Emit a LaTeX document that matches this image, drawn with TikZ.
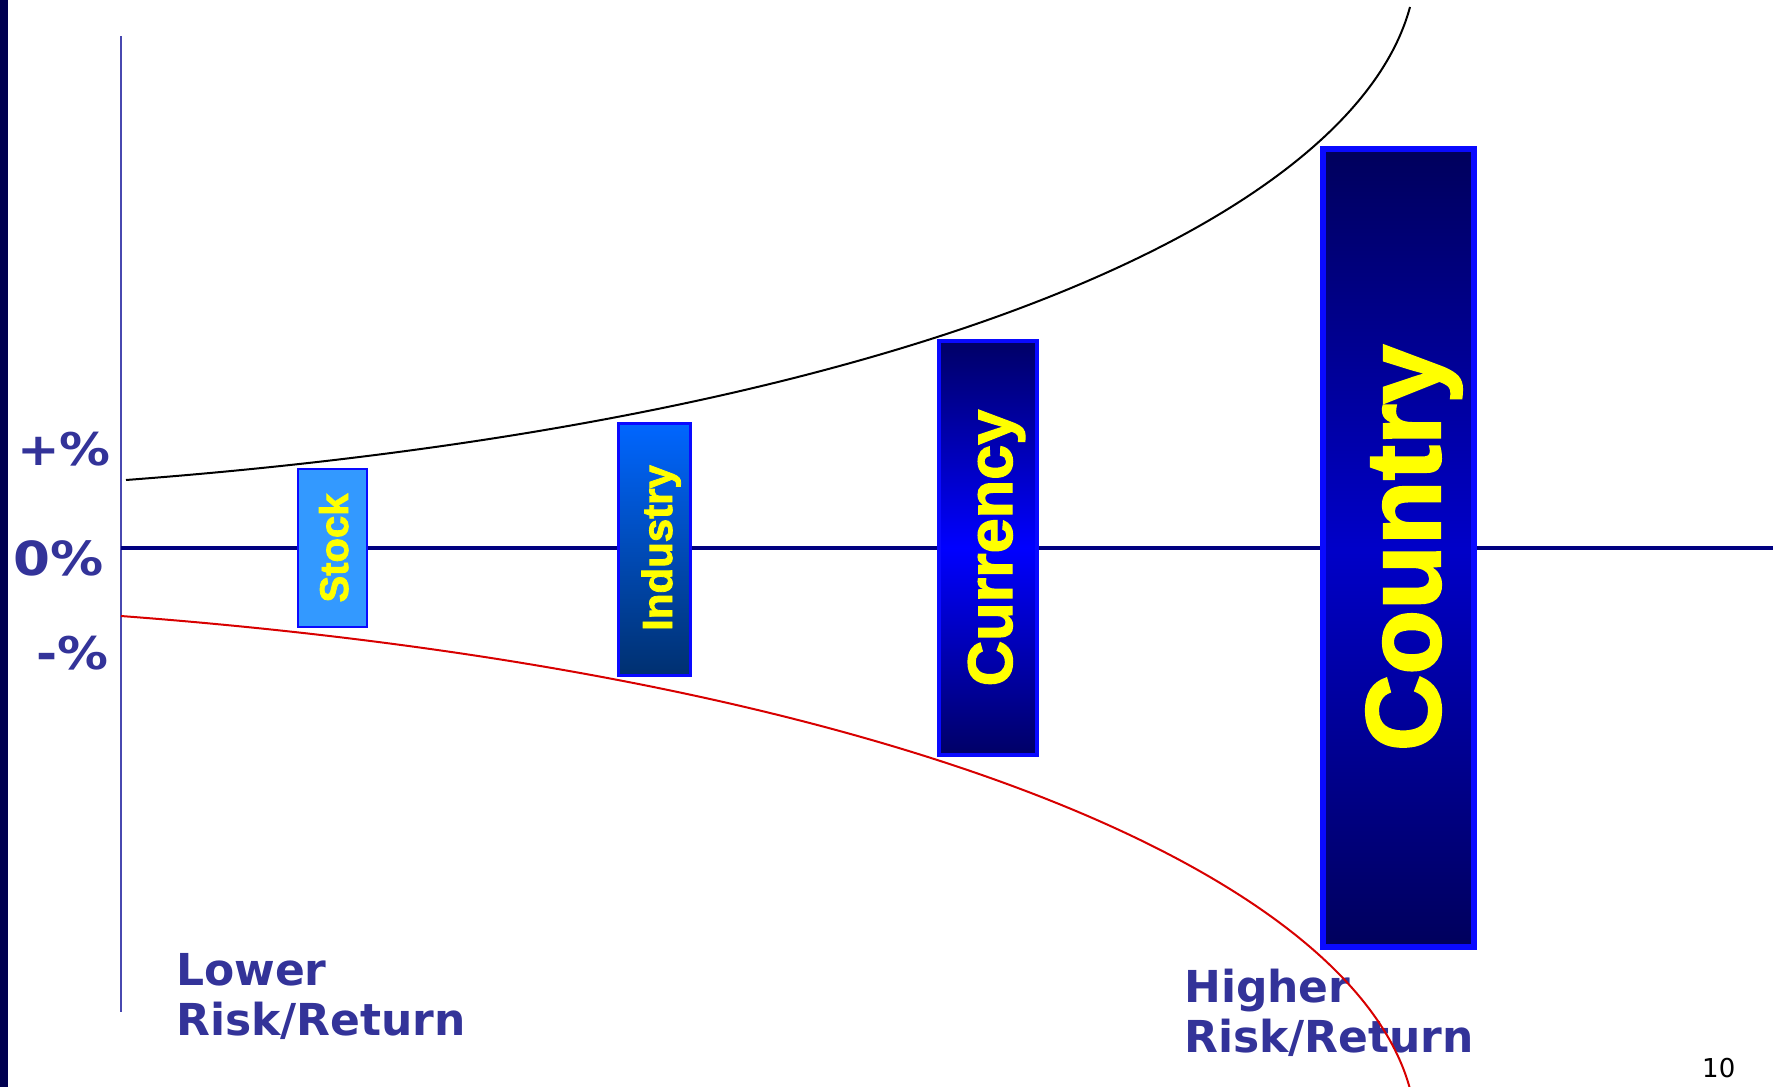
\documentclass[tikz,border=0pt]{standalone}
\usepackage{fontspec}
\setmainfont{DejaVu Sans}
\newfontfamily\labfont{DejaVu Sans}[UprightFont={* Bold}]
\newfontfamily\pctfont{DejaVu Sans}[UprightFont={* Bold}, FakeStretch=1.13]
\newfontfamily\numfont{DejaVu Sans}
\newfontfamily\boxfont{Liberation Sans}[UprightFont={* Bold}, FakeBold=2]
\definecolor{labblue}{HTML}{333399}
\definecolor{barnavy}{HTML}{000050}
\definecolor{axisblue}{HTML}{4848B0}
\definecolor{zeronavy}{HTML}{000080}
\definecolor{boxblue}{HTML}{0A0AFF}
\definecolor{stockfill}{HTML}{3399FF}
\definecolor{indtop}{HTML}{0066FF}
\definecolor{indbot}{HTML}{003070}
\definecolor{curdark}{HTML}{000066}
\definecolor{curmid}{HTML}{0000FF}
\definecolor{coudark}{HTML}{00005C}
\definecolor{coumid}{HTML}{0000C8}
\definecolor{txtyellow}{HTML}{FFFF00}
\definecolor{curvered}{HTML}{D80000}
\begin{document}
\begin{tikzpicture}[x=1pt,y=-1pt,
  lab/.style={text=labblue, inner sep=0, font=\labfont\fontsize{44}{50}\selectfont},
  pct/.style={text=labblue, inner sep=0, anchor=base east, font=\pctfont\fontsize{45}{50}\selectfont},
  riskbox/.style={rectangle, draw=boxblue, inner sep=0},
  boxtxt/.style={text=txtyellow, rotate=90, anchor=base, inner sep=0}]
\useasboundingbox (0,0) rectangle (1773,1087);
\fill[white] (0,0) rectangle (1773,1087);
% left bar
\fill[barnavy] (0,0) rectangle (8,1087);
% axes
\coordinate (axtop) at (121,36);
\coordinate (axbot) at (121,1012);
\coordinate (zl) at (121,548);
\coordinate (zr) at (1773,548);
\draw[axisblue, line width=2] (axtop) -- (axbot);
\draw[zeronavy, line width=4.5] (zl) -- (zr);
% boxes
\node[riskbox, line width=2, fill=stockfill, minimum width=69, minimum height=158] (stock) at (332.5,548) {};
\node[riskbox, line width=3, top color=indtop, bottom color=indbot, minimum width=72, minimum height=252] (industry) at (654.5,549.5) {};
\node[riskbox, line width=4, top color=curdark, bottom color=curdark, middle color=curmid, minimum width=98, minimum height=414] (currency) at (988,548) {};
\node[riskbox, line width=6, top color=coudark, bottom color=coudark, middle color=coumid, minimum width=151, minimum height=798] (country) at (1398.5,548) {};
% box labels
\node[boxtxt, font=\boxfont\fontsize{40}{48}\selectfont] (stocktxt) at (348,548) {Stock};
\node[boxtxt, font=\boxfont\fontsize{42}{50}\selectfont] (indtxt) at (672,548) {Industry};
\node[boxtxt, font=\boxfont\fontsize{63}{72}\selectfont] (curtxt) at (1012,548) {Currency};
\node[boxtxt, font=\boxfont\fontsize{106}{120}\selectfont] (coutxt) at (1440,548) {Country};
% left labels
\node[pct] (plus) at (111,465) {+\%};
\node[pct, font=\pctfont\fontsize{47}{50}\selectfont] (zero) at (104,575) {0\%};
\node[pct] (minus) at (109,669) {-\%};
% bottom labels
\node[lab, anchor=base west, align=left] (lower) at (176,1035) {Lower\\Risk/Return};
\node[lab, anchor=base west, align=left] (higher) at (1184,1052) {Higher\\Risk/Return};
\node[anchor=base west, inner sep=0, font=\numfont\fontsize{26}{30}\selectfont] (pagenum) at (1702,1077) {10};
% curves
\draw[black, line width=2] (126,480) .. controls (906,421) and (1353,219) .. (1410,7);
\draw[curvered, line width=2] (121,616) .. controls (901,675) and (1353,877) .. (1410,1089);
\end{tikzpicture}
\end{document}
